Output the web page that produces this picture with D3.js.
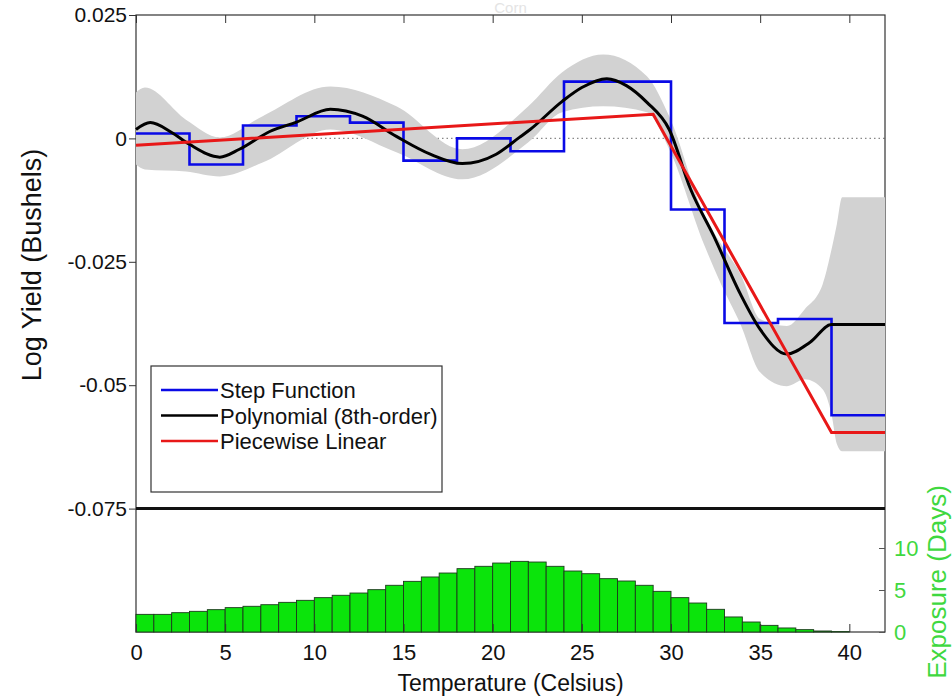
<!DOCTYPE html>
<html>
<head>
<meta charset="utf-8">
<script src="https://cdn.jsdelivr.net/npm/d3@7/dist/d3.min.js"></script>
<style>
  html, body { margin: 0; padding: 0; background: #fff; }
  svg { display: block; font-family: "Liberation Sans", Arial, Helvetica, sans-serif; }
</style>
</head>
<body>
<svg id="chart" width="952" height="696"></svg>
<script>
// ---------------- DATA ----------------
const titleText = "Corn";
const xTicks = [0, 5, 10, 15, 20, 25, 30, 35, 40];
const yTicks = [0.025, 0, -0.025, -0.05, -0.075];
const yTickLabels = ["0.025", "0", "-0.025", "-0.05", "-0.075"];
const exposureTicks = [0, 5, 10];

// Step function: bin edges and values
const stepEdges = [0, 3, 6, 9, 12, 15, 18, 21, 24, 27, 30, 33, 36, 39, 42];
const stepValues = [0.0010, -0.0053, 0.0026, 0.0045, 0.0032, -0.0045, 0.0000, -0.0026,
                    0.0115, 0.0115, -0.0144, -0.0374, -0.0366, -0.0561];

// 8th-order polynomial
const polyT = [0, 0.8, 2, 3, 4.7, 5.8, 7.5, 9, 10.9, 12.7, 14.6, 16.5, 18.3, 20.2, 21.5, 22.1,
               23.9, 25, 26.4, 27.5, 28.65, 29.9, 31.1, 32.4, 33.9, 35, 36.5, 37.8, 39, 42];
const polyV = [0.0018, 0.0032, 0.0012, -0.0012, -0.0038, -0.0022, 0.0014, 0.0033, 0.0059, 0.0045,
               0.0004, -0.0032, -0.0051, -0.0032, 0.0002, 0.0018, 0.0075, 0.0103, 0.0121, 0.0107,
               0.0073, 0.0018, -0.0103, -0.0198, -0.0316, -0.0387, -0.0437, -0.0413, -0.0377, -0.0377];

// Confidence band of the polynomial
const bandT     = [0, 0.5, 2.8, 4.7, 7.1, 10.9, 14.6, 18.3, 22, 23.9, 26.2, 28.65, 29.9, 31.9, 32.75,
                   33.9, 35, 36.5, 37.5, 38.5, 39, 39.3, 39.6, 42];
const bandUpper = [0.0093, 0.0103, 0.0038, 0.0002, 0.0045, 0.0105, 0.0065, -0.0022, 0.0065, 0.0134,
                   0.0170, 0.0126, 0.0045, -0.0158, -0.0211, -0.0275, -0.0366, -0.0380, -0.0346,
                   -0.0296, -0.0225, -0.0174, -0.0119, -0.0119];
const bandLower = [-0.0053, -0.0063, -0.0067, -0.0077, -0.0049, 0.0018, -0.0028, -0.0083, -0.0008,
                   0.0053, 0.0065, 0.0053, -0.0022, -0.0219, -0.0291, -0.0377, -0.0474, -0.0502,
                   -0.0488, -0.0508, -0.0559, -0.0619, -0.0634, -0.0634];

// Piecewise linear
const pwT = [0, 29, 39, 42];
const pwV = [-0.0014, 0.0049, -0.0596, -0.0596];

// Exposure histogram (days per 1-degree bin, starting at 0 C)
const exposureDays = [2.10, 2.10, 2.30, 2.46, 2.66, 2.90, 3.06, 3.25, 3.53, 3.77, 4.09, 4.37, 4.64,
                      5.04, 5.56, 6.03, 6.55, 7.02, 7.54, 7.82, 8.21, 8.41, 8.33, 7.82, 7.26, 6.94,
                      6.35, 6.07, 5.56, 4.84, 4.09, 3.45, 2.70, 1.79, 1.19, 0.79, 0.48, 0.28, 0.12, 0.05];

const legendLabels = ["Step Function", "Polynomial (8th-order)", "Piecewise Linear"];
const seriesColors = ["#0a0ae6", "#000000", "#e81818"];

// ---------------- LAYOUT ----------------
const svg = d3.select("#chart");
const L = 136, R = 885, T = 15, B = 632;
const x = d3.scaleLinear().domain([0, 42]).range([L, R]);
const y = d3.scaleLinear().domain([0.025, -0.1]).range([T, B]);
const yE = d3.scaleLinear().domain([0, 10]).range([B, B - 84]);
const green = "#3fd83f";
const font = 22;
const ff = "Liberation Sans, Arial";

// zero dotted line
svg.append("line").attr("x1", L).attr("x2", R).attr("y1", y(0)).attr("y2", y(0))
  .attr("stroke", "#888").attr("stroke-width", 1.2).attr("stroke-dasharray", "1.5,3");

// frame
svg.append("rect").attr("x", L).attr("y", T).attr("width", R - L).attr("height", B - T)
  .attr("fill", "none").attr("stroke", "#333").attr("stroke-width", 1.2);

// band
const bandData = bandT.map((t, i) => ({ t, lo: bandLower[i], hi: bandUpper[i] }));
svg.append("path").datum(bandData)
  .attr("d", d3.area().x(d => x(d.t)).y0(d => y(d.lo)).y1(d => y(d.hi)).curve(d3.curveMonotoneX))
  .attr("fill", "#d2d2d2");

// separating line at -0.075
svg.append("line").attr("x1", L).attr("x2", R).attr("y1", y(-0.075)).attr("y2", y(-0.075))
  .attr("stroke", "#111").attr("stroke-width", 3);

// histogram bars
svg.append("g").selectAll("rect").data(exposureDays).join("rect")
  .attr("x", (d, i) => x(i)).attr("width", x(1) - x(0))
  .attr("y", d => yE(d)).attr("height", d => B - yE(d))
  .attr("fill", "#0be40b").attr("stroke", "#1c3a1c").attr("stroke-width", 0.9);

// step function
const stepPts = [];
stepValues.forEach((v, i) => { stepPts.push([stepEdges[i], v]); stepPts.push([stepEdges[i + 1], v]); });
svg.append("path").datum(stepPts)
  .attr("d", d3.line().x(d => x(d[0])).y(d => y(d[1])))
  .attr("fill", "none").attr("stroke", seriesColors[0]).attr("stroke-width", 2.6);

// polynomial
svg.append("path").datum(polyT.map((t, i) => [t, polyV[i]]))
  .attr("d", d3.line().x(d => x(d[0])).y(d => y(d[1])).curve(d3.curveMonotoneX))
  .attr("fill", "none").attr("stroke", seriesColors[1]).attr("stroke-width", 3);

// piecewise linear
svg.append("path").datum(pwT.map((t, i) => [t, pwV[i]]))
  .attr("d", d3.line().x(d => x(d[0])).y(d => y(d[1])))
  .attr("fill", "none").attr("stroke", seriesColors[2]).attr("stroke-width", 3);

// bottom axis (ticks inward)
const gx = svg.append("g").attr("transform", `translate(0,${B})`)
  .call(d3.axisBottom(x).tickValues(xTicks).tickSizeInner(-8).tickSizeOuter(0).tickPadding(12));
gx.select(".domain").remove();
gx.selectAll("line").attr("stroke", "#333");
gx.selectAll("text").attr("font-size", font).attr("fill", "#111").attr("font-family", ff);

// top axis ticks inward
const gt = svg.append("g").attr("transform", `translate(0,${T})`)
  .call(d3.axisTop(x).tickValues(xTicks).tickSizeInner(-8).tickSizeOuter(0).tickFormat(""));
gt.select(".domain").remove();
gt.selectAll("line").attr("stroke", "#333");

// left axis
const gy = svg.append("g").attr("transform", `translate(${L},0)`)
  .call(d3.axisLeft(y).tickValues(yTicks).tickSize(7).tickPadding(2)
    .tickFormat((d, i) => yTickLabels[i]));
gy.select(".domain").remove();
gy.selectAll("line").attr("stroke", "#333");
gy.selectAll("text").attr("font-size", font - 1).attr("fill", "#111").attr("font-family", ff);

// right exposure axis
const ge = svg.append("g").attr("transform", `translate(${R},0)`)
  .call(d3.axisRight(yE).tickValues(exposureTicks).tickSizeInner(-6).tickSizeOuter(0).tickPadding(9));
ge.select(".domain").remove();
ge.selectAll("line").attr("stroke", "#555");
ge.selectAll("text").attr("font-size", font).attr("fill", green).attr("font-family", ff);

// axis titles
svg.append("text").attr("x", (L + R) / 2).attr("y", 691).attr("text-anchor", "middle")
  .attr("font-size", font + 1).attr("fill", "#111").text("Temperature (Celsius)");
svg.append("text").attr("transform", "translate(41,265) rotate(-90)").attr("text-anchor", "middle")
  .attr("font-size", 27).attr("fill", "#111").text("Log Yield (Bushels)");
svg.append("text").attr("transform", "translate(946,582) rotate(-90)").attr("text-anchor", "middle")
  .attr("font-size", 26).attr("fill", green).text("Exposure (Days)");
svg.append("text").attr("x", (L + R) / 2).attr("y", 13).attr("text-anchor", "middle")
  .attr("font-size", 15).attr("fill", "#e4e4e4").text(titleText);

// legend
const lg = svg.append("g");
lg.append("rect").attr("x", 151).attr("y", 366).attr("width", 291).attr("height", 126)
  .attr("fill", "#fff").attr("stroke", "#333").attr("stroke-width", 1.2);
legendLabels.forEach((lab, i) => {
  const yy = 390 + i * 25.5;
  lg.append("line").attr("x1", 161).attr("x2", 218).attr("y1", yy).attr("y2", yy)
    .attr("stroke", seriesColors[i]).attr("stroke-width", 2.6);
  lg.append("text").attr("x", 220).attr("y", yy + 8).attr("font-size", font)
    .attr("fill", "#111").text(lab);
});
</script>
</body>
</html>
